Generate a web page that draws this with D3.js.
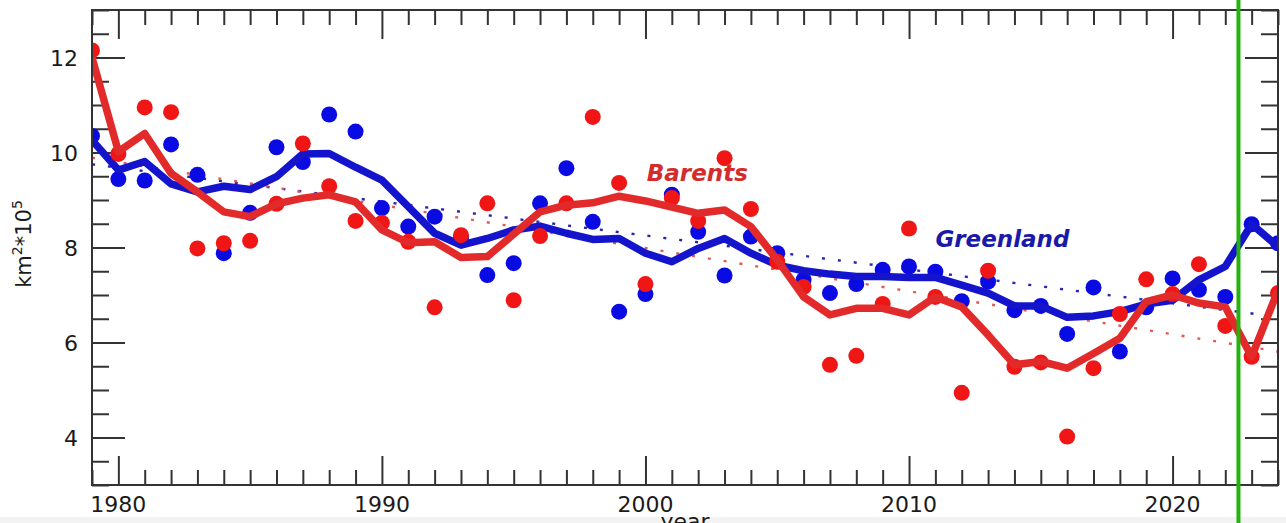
<!DOCTYPE html>
<html>
<head>
<meta charset="utf-8">
<script src="https://cdn.jsdelivr.net/npm/d3@7"></script>
<style>
  body { margin: 0; background: #fff; }
  svg { display: block; font-family: "DejaVu Sans", sans-serif; }
</style>
</head>
<body>
<svg id="chart" width="1286" height="523"></svg>
<script>
// Years 1979..2024
const years = d3.range(1979, 2025);

// Annual values, km2*10^5
const barents = [12.15, 9.97, 10.95, 10.85, 7.98, 8.09, 8.14, 8.92, 10.19, 9.29,
  8.56, 8.52, 8.12, 6.74, 8.26, 8.93, 6.89, 8.24, 8.93, 10.75,
  9.36, 7.23, 9.04, 8.56, 9.88, 8.81, 7.70, 7.17, 5.53, 5.72,
  6.81, 8.40, 6.96, 4.94, 7.51, 5.49, 5.58, 4.02, 5.46, 6.60,
  7.33, 7.02, 7.65, 6.35, 5.70, 7.04];
const greenland = [10.35, 9.44, 9.41, 10.17, 9.53, 7.88, 8.73, 10.11, 9.80, 10.80,
  10.44, 8.83, 8.44, 8.65, 8.20, 7.42, 7.67, 8.93, 9.67, 8.54,
  6.65, 7.02, 9.11, 8.33, 7.41, 8.23, 7.88, 7.32, 7.04, 7.23,
  7.53, 7.60, 7.49, 6.87, 7.28, 6.68, 6.77, 6.18, 7.16, 5.81,
  6.74, 7.35, 7.11, 6.96, 8.49, 8.09];

// Smoothed curves (thick lines)
const barentsSmooth = [12.0, 10.02, 10.40, 9.56, 9.17, 8.75, 8.65, 8.92, 9.04, 9.11,
  8.96, 8.37, 8.10, 8.12, 7.79, 7.81, 8.28, 8.75, 8.89, 8.94,
  9.08, 8.98, 8.85, 8.72, 8.79, 8.44, 7.74, 6.96, 6.58, 6.72,
  6.72, 6.58, 6.96, 6.75, 6.16, 5.53, 5.60, 5.46, 5.77, 6.09,
  6.86, 7.00, 6.83, 6.75, 5.70, 7.10];
const greenlandSmooth = [10.26, 9.63, 9.81, 9.34, 9.17, 9.29, 9.22, 9.49, 9.97, 9.98,
  9.69, 9.42, 8.86, 8.30, 8.05, 8.19, 8.37, 8.45, 8.30, 8.17,
  8.19, 7.88, 7.70, 7.98, 8.19, 7.88, 7.63, 7.51, 7.44, 7.39,
  7.39, 7.37, 7.37, 7.21, 7.04, 6.77, 6.77, 6.53, 6.56, 6.65,
  6.81, 6.89, 7.32, 7.60, 8.49, 8.02];

// Linear trend end points
const trendYears = [1979, 2024];
const barentsTrend = [9.89, 5.81];
const greenlandTrend = [9.75, 6.54];

const xMajor = [1980, 1990, 2000, 2010, 2020];
const yMajor = [4, 6, 8, 10, 12];
const markerYear = 2022.5;

const margin = { top: 10, right: 8, bottom: 38, left: 92 };
const W = 1286, H = 523;
const width = W - margin.left - margin.right;
const height = H - margin.top - margin.bottom;

const svg = d3.select("#chart");

const x = d3.scaleLinear().domain([1979, 2024]).range([0, width]);
const y = d3.scaleLinear().domain([3, 13]).range([height, 0]);

// light strip at the very bottom
svg.append("rect").attr("x", 0).attr("y", 517).attr("width", W).attr("height", 6).attr("fill", "#f3f3f3");

const g = svg.append("g").attr("transform", `translate(${margin.left},${margin.top})`);

g.append("clipPath").attr("id", "clip")
  .append("rect").attr("width", width).attr("height", height);

// ticks (all point inward)
const minorX = d3.range(1979, 2025).filter(v => !xMajor.includes(v));
const minorY = d3.range(3, 13.01, 0.5).filter(v => !yMajor.includes(v));

function tickGroup(axis) {
  const a = g.append("g").call(axis);
  a.select(".domain").remove();
  a.selectAll("line").attr("stroke", "#333").attr("stroke-width", 2);
  return a;
}
tickGroup(d3.axisBottom(x).tickValues(minorX).tickSize(-15).tickFormat(""))
  .attr("transform", `translate(0,${height})`);
tickGroup(d3.axisBottom(x).tickValues(xMajor).tickSize(-29).tickFormat(""))
  .attr("transform", `translate(0,${height})`);
tickGroup(d3.axisTop(x).tickValues(minorX).tickSize(-15).tickFormat(""));
tickGroup(d3.axisTop(x).tickValues(xMajor).tickSize(-29).tickFormat(""));
tickGroup(d3.axisLeft(y).tickValues(minorY).tickSize(-17).tickFormat(""));
tickGroup(d3.axisLeft(y).tickValues(yMajor).tickSize(-33).tickFormat(""));
tickGroup(d3.axisRight(y).tickValues(minorY).tickSize(-17).tickFormat(""))
  .attr("transform", `translate(${width},0)`);
tickGroup(d3.axisRight(y).tickValues(yMajor).tickSize(-33).tickFormat(""))
  .attr("transform", `translate(${width},0)`);

// tick labels
g.selectAll(".xl").data(xMajor).join("text")
  .attr("x", d => x(d)).attr("y", height + 27)
  .attr("text-anchor", "middle").attr("font-size", 22).attr("fill", "#1a1a1a")
  .text(d => d);
g.selectAll(".yl").data(yMajor).join("text")
  .attr("x", -14).attr("y", d => y(d) + 8)
  .attr("text-anchor", "end").attr("font-size", 22).attr("fill", "#1a1a1a")
  .text(d => d);

// axis titles
const yt = svg.append("text")
  .attr("transform", "translate(31,244) rotate(-90)")
  .attr("text-anchor", "middle").attr("font-size", 21).attr("fill", "#1a1a1a");
yt.append("tspan").text("km");
yt.append("tspan").attr("font-size", 14).attr("dy", -9).text("2");
yt.append("tspan").attr("dy", 9).text("*10");
yt.append("tspan").attr("font-size", 14).attr("dy", -9).text("5");

svg.append("text").attr("x", margin.left + width / 2).attr("y", 529)
  .attr("text-anchor", "middle").attr("font-size", 22).attr("fill", "#1a1a1a")
  .text("year");

const plot = g.append("g").attr("clip-path", "url(#clip)");

// dotted trends
const trendLine = d3.line().x((d, i) => x(trendYears[i])).y(d => y(d));
plot.append("path").datum(greenlandTrend).attr("d", trendLine)
  .attr("fill", "none").attr("stroke", "#2626b0").attr("stroke-width", 2.4)
  .attr("stroke-dasharray", "3,13");
plot.append("path").datum(barentsTrend).attr("d", trendLine)
  .attr("fill", "none").attr("stroke", "#e05a5a").attr("stroke-width", 2.4)
  .attr("stroke-dasharray", "3,13");

const line = d3.line().x((d, i) => x(years[i])).y(d => y(d));

plot.selectAll(".gp").data(greenland).join("circle")
  .attr("cx", (d, i) => x(years[i])).attr("cy", d => y(d)).attr("r", 8)
  .attr("fill", "#0a0ae2");
plot.append("path").datum(greenlandSmooth).attr("d", line)
  .attr("fill", "none").attr("stroke", "#1414cc").attr("stroke-width", 7.5)
  .attr("stroke-linejoin", "round");

plot.selectAll(".bp").data(barents).join("circle")
  .attr("cx", (d, i) => x(years[i])).attr("cy", d => y(d)).attr("r", 8)
  .attr("fill", "#f01616");
plot.append("path").datum(barentsSmooth).attr("d", line)
  .attr("fill", "none").attr("stroke", "#e32a2a").attr("stroke-width", 7.5)
  .attr("stroke-linejoin", "round");

// series labels
g.append("text").attr("x", x(2000.05)).attr("y", 171)
  .attr("font-size", 23).attr("font-weight", "bold").attr("font-style", "italic")
  .attr("fill", "#d42c2c").text("Barents");
g.append("text").attr("x", x(2011.0)).attr("y", 237)
  .attr("font-size", 23).attr("font-weight", "bold").attr("font-style", "italic")
  .attr("fill", "#1a1aaa").text("Greenland");

// frame
g.append("rect").attr("width", width).attr("height", height)
  .attr("fill", "none").attr("stroke", "#333").attr("stroke-width", 2);

// green marker line
svg.append("line")
  .attr("x1", margin.left + x(markerYear)).attr("x2", margin.left + x(markerYear))
  .attr("y1", 0).attr("y2", H)
  .attr("stroke", "#22b30c").attr("stroke-width", 4);
</script>
</body>
</html>
